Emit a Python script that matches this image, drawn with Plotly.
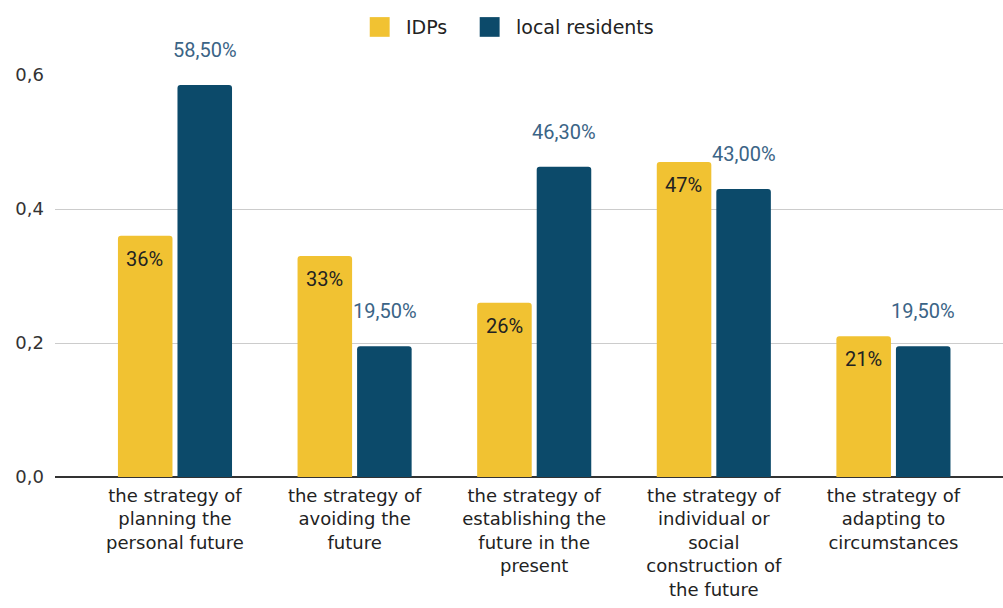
import plotly.graph_objects as go

categories = [
    "the strategy of<br>planning the<br>personal future",
    "the strategy of<br>avoiding the<br>future",
    "the strategy of<br>establishing the<br>future in the<br>present",
    "the strategy of<br>individual or<br>social<br>construction of<br>the future",
    "the strategy of<br>adapting to<br>circumstances",
]
idps = [0.36, 0.33, 0.26, 0.47, 0.21]
locals_ = [0.585, 0.195, 0.463, 0.43, 0.195]
series_names = ["IDPs", "local residents"]
y_ticks = [0.0, 0.2, 0.4, 0.6]

YELLOW = "#F1C232"
BLUE = "#0C4A6A"
LABEL_BLUE = "#3B6486"
FONT = "Roboto, Arial, sans-serif"
AXIS_FONT = "DejaVu Sans, Arial, sans-serif"

fig = go.Figure()
fig.add_trace(go.Bar(name=series_names[0], x=categories, y=idps,
                     marker=dict(color=YELLOW, cornerradius=3, line=dict(width=0))))
fig.add_trace(go.Bar(name=series_names[1], x=categories, y=locals_,
                     marker=dict(color=BLUE, cornerradius=3, line=dict(width=0))))

# value labels: IDPs inside the top of the bar, local residents above it
BAR_OFFSET = 30
annotations = []
for c, v in zip(categories, idps):
    annotations.append(dict(x=c, y=v, xref="x", yref="y", xshift=-BAR_OFFSET, yshift=-9,
                            yanchor="top", text=f"{round(v * 100)}%", showarrow=False,
                            font=dict(family=FONT, size=20, color="#222222")))
for c, v in zip(categories, locals_):
    annotations.append(dict(x=c, y=v, xref="x", yref="y", xshift=BAR_OFFSET, yshift=21,
                            yanchor="bottom", text=f"{v * 100:.2f}".replace(".", ",") + "%",
                            showarrow=False,
                            font=dict(family=FONT, size=20, color=LABEL_BLUE)))

# legend drawn at the top centre
legend_items = [(series_names[0], YELLOW, 0.332), (series_names[1], BLUE, 0.448)]
shapes = []
for name, color, x0 in legend_items:
    shapes.append(dict(type="rect", xref="paper", yref="paper", x0=x0, x1=x0 + 0.021,
                       y0=1.095, y1=1.144, fillcolor=color, line=dict(width=0)))
    annotations.append(dict(x=x0 + 0.036, y=1.119, xref="paper", yref="paper",
                            xanchor="left", yanchor="middle", text=name, showarrow=False,
                            font=dict(family=AXIS_FONT, size=19, color="#222222")))

fig.update_layout(
    width=1003, height=608,
    margin=dict(l=55, r=0, t=75, b=131),
    paper_bgcolor="white", plot_bgcolor="white",
    barmode="group", bargap=0.337, bargroupgap=0.084,
    showlegend=False,
    separators=",.",
    font=dict(family=AXIS_FONT, size=18, color="#222222"),
    annotations=annotations,
    shapes=shapes,
    xaxis=dict(range=[-0.668, 4.61], showgrid=False, showline=False, ticks="",
               ticklabelstandoff=6,
               tickfont=dict(family=AXIS_FONT, size=18, color="#222222")),
    yaxis=dict(range=[0, 0.6], tickvals=y_ticks, tickformat=".1f",
               showgrid=True, gridcolor="#CCCCCC", gridwidth=1,
               zeroline=True, zerolinecolor="#333333", zerolinewidth=1.5,
               showline=False, ticks="", ticklabelstandoff=10,
               tickfont=dict(family=AXIS_FONT, size=18, color="#333333")),
)

fig.write_html("out.html")
